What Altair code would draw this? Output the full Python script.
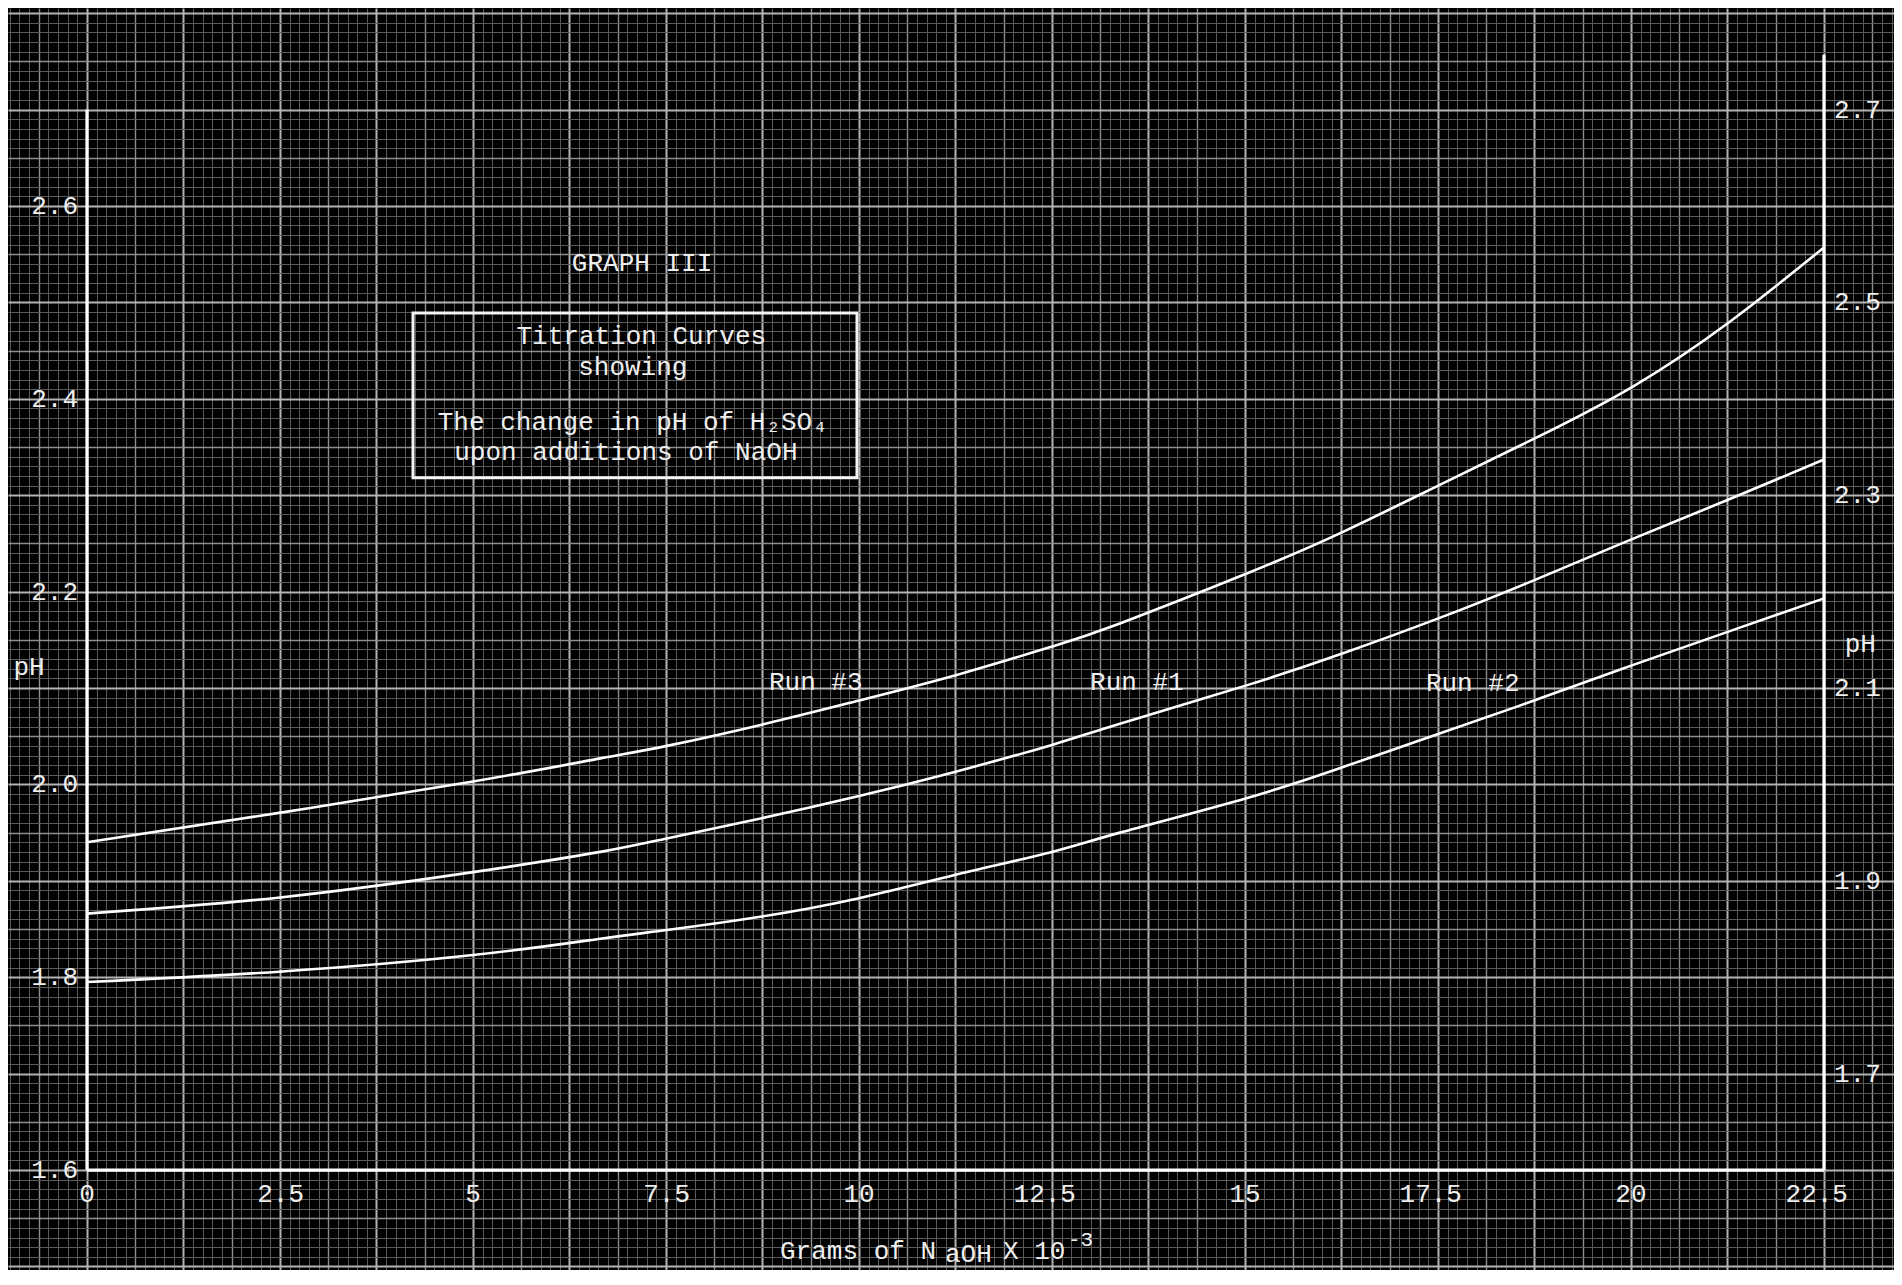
import altair as alt
import pandas as pd

# ---------------- values ----------------
grams = [0, 2.53, 5.0, 6.65, 7.51, 8.74, 10.0, 11.24, 12.5, 13.38, 15.03,
         16.27, 17.53, 18.78, 20.03, 21.28, 22.5]
run_1 = [1.866, 1.883, 1.909, 1.930, 1.944, 1.965, 1.988, 2.013, 2.041, 2.063,
         2.103, 2.136, 2.173, 2.213, 2.255, 2.296, 2.337]
run_2 = [1.795, 1.806, 1.823, 1.840, 1.849, 1.863, 1.882, 1.906, 1.930, 1.950,
         1.986, 2.018, 2.053, 2.088, 2.124, 2.159, 2.193]
run_3 = [1.940, 1.971, 2.003, 2.027, 2.040, 2.062, 2.087, 2.113, 2.143, 2.167,
         2.219, 2.262, 2.311, 2.360, 2.413, 2.480, 2.557]

x_int_ticks = [0, 5, 10, 15, 20]
x_int_labels = ["0", "5", "10", "15", "20"]
x_half_ticks = [2.5, 7.5, 12.5, 17.5, 22.5]
x_half_labels = ["2.5", "7.5", "12.5", "17.5", "22.5"]
left_ticks = [1.6, 1.8, 2.0, 2.2, 2.4, 2.6]
left_labels = ["1.6", "1.8", "2.0", "2.2", "2.4", "2.6"]
right_ticks = [1.7, 1.9, 2.1, 2.3, 2.5, 2.7]
right_labels = ["1.7", "1.9", "2.1", "2.3", "2.5", "2.7"]

# frame lines (left axis, bottom axis, right axis)
frame_x = [0, 0, 22.5]
frame_x2 = [0, 22.5, 22.5]
frame_y = [1.6, 1.6, 1.6]
frame_y2 = [2.7, 1.6, 2.757]

# caption box
box_x, box_x2, box_y, box_y2 = [4.223], [9.974], [2.318], [2.489]

# centred annotations
note_text = ["GRAPH III", "Titration Curves", "showing",
             "The change in pH of H\u2082SO\u2084", "upon additions of NaOH",
             "Run #3", "Run #1", "Run #2", "pH", "pH"]
note_x = [7.19, 7.18, 7.07, 7.07, 6.98, 9.44, 13.60, 17.95, -0.75, 22.97]
note_y = [2.541, 2.465, 2.433, 2.376, 2.345, 2.106, 2.106, 2.105, 2.122, 2.146]

# x axis title pieces (typed, with the shifted letters of the original)
xt_text = ["Grams of N", "aOH", "X 10", "-3"]
xt_x = [8.977, 11.114, 11.865, 12.707]
xt_y = [1.5075, 1.5050, 1.5075, 1.5215]
xt_size = [26, 26, 26, 21]

# ---------------- layout / style ----------------
W, H = 1886, 1262
X_DOMAIN = [-1.0233, 23.407]
Y_DOMAIN = [1.4963, 2.8054]
FONT = "Liberation Mono"
INK = "#eeeeee"
MAJOR, HALF, MINOR = "#b4b4b4", "#8e8e8e", "#5a5a5a"

x_grid_vals = [round(k * 0.125, 4) for k in range(-8, 188)]
y_grid_vals = [round(k * 0.01, 3) for k in range(150, 281)]

x_scale = alt.Scale(domain=X_DOMAIN, nice=False, zero=False)
y_scale = alt.Scale(domain=Y_DOMAIN, nice=False, zero=False)

x_axis = alt.Axis(
    values=x_grid_vals, grid=True, labels=False, ticks=False, domain=False, title=None,
    gridColor={"condition": [
        {"test": "round(datum.value*8) % 10 == 0", "value": MAJOR},
        {"test": "round(datum.value*8) % 5 == 0", "value": HALF}], "value": MINOR},
    gridWidth={"condition": [
        {"test": "round(datum.value*8) % 10 == 0", "value": 2},
        {"test": "round(datum.value*8) % 5 == 0", "value": 1.4}], "value": 1},
)
y_axis = alt.Axis(
    values=y_grid_vals, grid=True, labels=False, ticks=False, domain=False, title=None,
    gridColor={"condition": [
        {"test": "round(datum.value*100) % 10 == 0", "value": MAJOR},
        {"test": "round(datum.value*100) % 5 == 0", "value": HALF}], "value": MINOR},
    gridWidth={"condition": [
        {"test": "round(datum.value*100) % 10 == 0", "value": 2},
        {"test": "round(datum.value*100) % 5 == 0", "value": 1.4}], "value": 1},
)


def X(field):
    return alt.X(field, type="quantitative", scale=x_scale, axis=x_axis)


def Y(field):
    return alt.Y(field, type="quantitative", scale=y_scale, axis=y_axis)


# ---------------- tables ----------------
curves = pd.concat([
    pd.DataFrame({"g": grams, "ph": run_1, "run": "Run #1"}),
    pd.DataFrame({"g": grams, "ph": run_2, "run": "Run #2"}),
    pd.DataFrame({"g": grams, "ph": run_3, "run": "Run #3"}),
])
frame = pd.DataFrame({"x": frame_x, "x2": frame_x2, "y": frame_y, "y2": frame_y2})
box = pd.DataFrame({"x": box_x, "x2": box_x2, "y": box_y, "y2": box_y2})
notes = pd.DataFrame({"t": note_text, "x": note_x, "y": note_y})
xtitle = pd.DataFrame({"t": xt_text, "x": xt_x, "y": xt_y, "s": xt_size})
xint = pd.DataFrame({"x": x_int_ticks, "y": [1.6] * 5, "t": x_int_labels})
xhalf = pd.DataFrame({"x": x_half_ticks, "y": [1.6] * 5, "t": x_half_labels})
yleft = pd.DataFrame({"x": [0] * 6, "y": left_ticks, "t": left_labels})
yright = pd.DataFrame({"x": [22.5] * 6, "y": right_ticks, "t": right_labels})

# ---------------- layers ----------------
lines = alt.Chart(curves).mark_line(
    color="#ffffff", strokeWidth=2.6, interpolate="natural"
).encode(x=X("g"), y=Y("ph"), detail="run:N")

frame_l = alt.Chart(frame).mark_rule(color="#ffffff", strokeWidth=3.2).encode(
    x=X("x"), x2="x2", y=Y("y"), y2="y2")

box_l = alt.Chart(box).mark_rect(fill="transparent", stroke="#f4f4f4", strokeWidth=3).encode(
    x=X("x"), x2="x2", y=Y("y"), y2="y2")

text_kw = dict(font=FONT, fontSize=26, color=INK, baseline="middle")

notes_l = alt.Chart(notes).mark_text(align="center", **text_kw).encode(
    x=X("x"), y=Y("y"), text="t:N")

xtitle_l = alt.Chart(xtitle).mark_text(align="left", font=FONT, color=INK,
                                       baseline="alphabetic").encode(
    x=X("x"), y=Y("y"), text="t:N", size=alt.Size("s:Q", scale=None, legend=None))

xint_l = alt.Chart(xint).mark_text(align="center", dy=24, **text_kw).encode(
    x=X("x"), y=Y("y"), text="t:N")
xhalf_l = alt.Chart(xhalf).mark_text(align="right", dx=24, dy=24, **text_kw).encode(
    x=X("x"), y=Y("y"), text="t:N")
yleft_l = alt.Chart(yleft).mark_text(align="right", dx=-9, **text_kw).encode(
    x=X("x"), y=Y("y"), text="t:N")
yright_l = alt.Chart(yright).mark_text(align="left", dx=10, **text_kw).encode(
    x=X("x"), y=Y("y"), text="t:N")

chart = alt.layer(
    lines, frame_l, box_l, notes_l, xtitle_l, xint_l, xhalf_l, yleft_l, yright_l
).properties(
    width=W, height=H, padding=0, background="#000000",
    autosize=alt.AutoSizeParams(type="none"),
).configure_view(stroke="#000000")

chart.save("out.html", embed_options={"renderer": "svg", "actions": False})
